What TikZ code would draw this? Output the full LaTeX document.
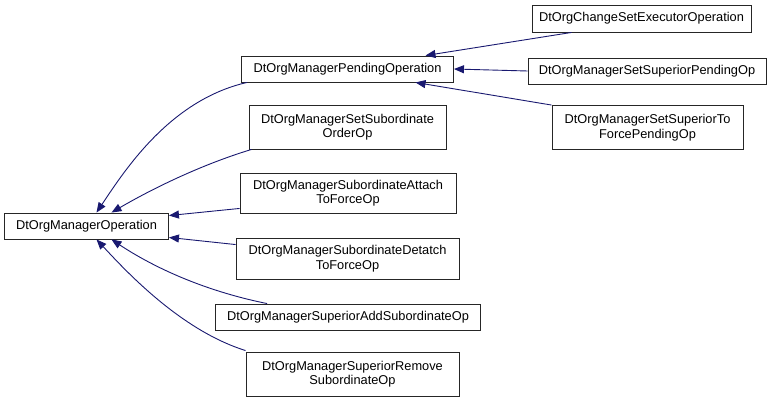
\documentclass[tikz,border=0pt]{standalone}
\usepackage{fontspec}
\setmainfont{Liberation Sans}
\usetikzlibrary{arrows.meta}
\definecolor{edgeblue}{HTML}{191970}
\tikzset{
  cls/.style={draw=black!85, line width=0.9pt, fill=white, inner sep=0pt, align=center,
    font=\fontsize{12.8}{14.5}\selectfont, text=black},
  edge/.style={draw=edgeblue, line width=0.9pt, -{Triangle[length=10pt,width=8pt]}, color=edgeblue}
}
\begin{document}
\begin{tikzpicture}[x=1pt,y=-1pt]
\useasboundingbox (0,0) rectangle (773,401);
\node[cls, minimum width=164pt, minimum height=26pt] (op) at (86.5,226) {DtOrgManagerOperation};
\node[cls, minimum width=212pt, minimum height=26pt] (pend) at (347.5,69) {DtOrgManagerPendingOperation};
\node[cls, minimum width=197pt, minimum height=44pt] (order) at (347.5,127) {DtOrgManagerSetSubordinate\\OrderOp};
\node[cls, minimum width=216pt, minimum height=40pt] (attach) at (348,193) {DtOrgManagerSubordinateAttach\\ToForceOp};
\node[cls, minimum width=223pt, minimum height=41pt] (detatch) at (347.5,258.5) {DtOrgManagerSubordinateDetatch\\ToForceOp};
\node[cls, minimum width=265pt, minimum height=26pt] (add) at (348,317) {DtOrgManagerSuperiorAddSubordinateOp};
\node[cls, minimum width=213pt, minimum height=44pt] (remove) at (352.5,374) {DtOrgManagerSuperiorRemove\\SubordinateOp};
\node[cls, minimum width=219pt, minimum height=27pt] (exec) at (641.5,18.5) {DtOrgChangeSetExecutorOperation};
\node[cls, minimum width=238pt, minimum height=26pt] (suppend) at (647,71) {DtOrgManagerSetSuperiorPendingOp};
\node[cls, minimum width=191pt, minimum height=44pt] (toforce) at (647.5,127.5) {DtOrgManagerSetSuperiorTo\\ForcePendingOp};
% edges into DtOrgManagerPendingOperation
\draw[edge] ([xshift=40pt]exec.south west) -- ([xshift=78pt]pend.north);
\draw[edge] (suppend.west) -- (pend.east);
\draw[edge] (toforce.north west) -- ([xshift=68pt]pend.south);
% edges into DtOrgManagerOperation
\draw[edge] ([xshift=6pt]pend.south west) .. controls (170,100) and (125,170) .. ([xshift=10pt]op.north);
\draw[edge] ([xshift=3pt]order.south west) .. controls (200,165) and (150,190) .. ([xshift=25pt]op.north);
\draw[edge] ([yshift=5pt]attach.south west) -- ([yshift=-3pt]op.north east);
\draw[edge] ([yshift=-7pt]detatch.north west) -- ([yshift=2pt]op.south east);
\draw[edge] ([xshift=52pt]add.north west) .. controls (200,290) and (150,265) .. ([xshift=25pt]op.south);
\draw[edge] ([yshift=1pt]remove.north west) .. controls (180,330) and (125,270) .. ([xshift=10pt]op.south);
\end{tikzpicture}
\end{document}
